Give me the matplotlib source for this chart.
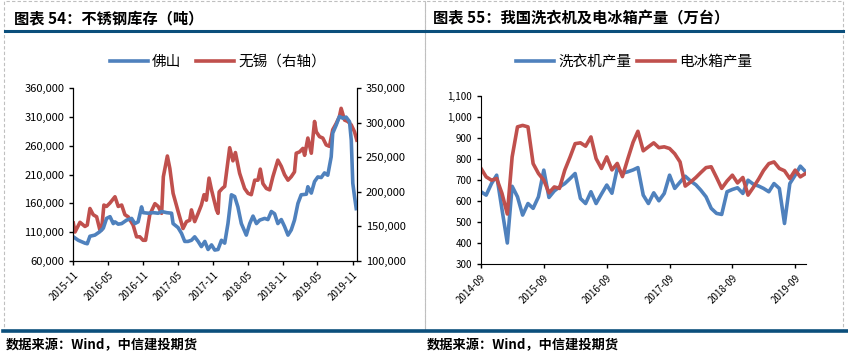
import matplotlib
matplotlib.use('Agg')
import matplotlib.pyplot as plt
import matplotlib.dates as mdates
from matplotlib.ticker import FuncFormatter
from matplotlib.lines import Line2D
from matplotlib.patches import Rectangle
import pandas as pd

plt.rcParams['font.family'] = ['Noto Sans CJK SC', 'DejaVu Sans']

# ---- chart 54: stainless steel inventory (tons) ----
foshan_dates = ['2015-11-01', '2015-11-27', '2016-01-01', '2016-01-13', '2016-01-27', '2016-02-22',
                '2016-03-19', '2016-04-06', '2016-04-23', '2016-05-11', '2016-05-28', '2016-06-06',
                '2016-06-23', '2016-07-11', '2016-08-06', '2016-09-01', '2016-09-18', '2016-10-05',
                '2016-10-23', '2016-10-31', '2016-11-27', '2016-12-23', '2017-01-18', '2017-02-05',
                '2017-03-03', '2017-03-29', '2017-04-06', '2017-05-02', '2017-05-20', '2017-06-06',
                '2017-06-23', '2017-07-11', '2017-07-28', '2017-08-15', '2017-09-01', '2017-09-19',
                '2017-10-06', '2017-10-24', '2017-11-10', '2017-11-27', '2017-12-15', '2018-01-01',
                '2018-01-18', '2018-02-05', '2018-02-22', '2018-03-11', '2018-03-29', '2018-04-24',
                '2018-05-12', '2018-05-29', '2018-06-16', '2018-07-03', '2018-07-29', '2018-08-15',
                '2018-09-02', '2018-09-19', '2018-10-06', '2018-10-24', '2018-11-10', '2018-11-28',
                '2018-12-15', '2019-01-01', '2019-01-19', '2019-02-05', '2019-03-04', '2019-03-12',
                '2019-03-30', '2019-04-16', '2019-05-03', '2019-05-21', '2019-06-07', '2019-06-24',
                '2019-07-12', '2019-07-20', '2019-08-07', '2019-08-24', '2019-09-11', '2019-09-28',
                '2019-10-16', '2019-10-25', '2019-11-02', '2019-11-11', '2019-11-20']
foshan = [102, 96, 91, 90, 103, 105, 111, 117, 134, 137, 125, 128,
          124, 125, 131, 134, 125, 128, 154, 144, 143, 144, 143, 146,
          144, 143, 125, 118, 108, 94, 94, 96, 102, 94, 85, 94,
          80, 88, 79, 80, 96, 91, 125, 175, 172, 154, 125, 105,
          125, 138, 125, 131, 134, 132, 146, 142, 125, 132, 120, 105,
          114, 131, 160, 175, 176, 189, 178, 198, 206, 205, 213, 209,
          241, 282, 296, 311, 308, 310, 302, 270, 195, 172, 151]
foshan = [v * 1000 for v in foshan]

wuxi_dates = ['2015-11-01', '2015-11-10', '2015-12-06', '2016-01-01', '2016-01-13', '2016-01-27',
              '2016-02-13', '2016-03-02', '2016-03-19', '2016-03-28', '2016-04-09', '2016-04-23',
              '2016-05-11', '2016-06-06', '2016-06-23', '2016-07-11', '2016-07-28', '2016-08-14',
              '2016-09-09', '2016-09-27', '2016-10-14', '2016-10-31', '2016-11-13', '2016-12-05',
              '2017-01-01', '2017-01-18', '2017-02-05', '2017-02-14', '2017-03-07', '2017-03-20',
              '2017-04-06', '2017-05-02', '2017-05-28', '2017-06-15', '2017-07-02', '2017-07-11',
              '2017-07-28', '2017-08-15', '2017-09-01', '2017-09-15', '2017-09-27', '2017-10-11',
              '2017-10-24', '2017-11-19', '2017-11-27', '2017-12-03', '2017-12-19', '2018-01-01',
              '2018-01-27', '2018-02-13', '2018-02-26', '2018-03-20', '2018-04-15', '2018-05-03',
              '2018-05-20', '2018-06-07', '2018-06-24', '2018-07-06', '2018-07-20', '2018-08-07',
              '2018-08-24', '2018-09-10', '2018-10-06', '2018-10-24', '2018-11-10', '2018-11-28',
              '2018-12-15', '2019-01-01', '2019-01-10', '2019-01-28', '2019-02-14', '2019-02-23',
              '2019-03-12', '2019-03-30', '2019-04-16', '2019-04-25', '2019-05-12', '2019-05-29',
              '2019-06-16', '2019-07-03', '2019-07-20', '2019-08-07', '2019-08-24', '2019-09-02',
              '2019-09-20', '2019-10-07', '2019-10-25', '2019-11-11', '2019-11-23']
wuxi = [155, 142, 156, 150, 152, 176, 167, 164, 145, 145, 181, 179,
        184, 193, 179, 181, 167, 164, 152, 135, 135, 130, 130, 167,
        183, 179, 169, 222, 252, 234, 198, 172, 147, 157, 159, 174,
        157, 169, 181, 196, 188, 220, 203, 174, 169, 200, 205, 208,
        264, 245, 257, 227, 205, 198, 196, 217, 217, 233, 212, 205,
        203, 222, 246, 237, 225, 217, 222, 229, 256, 258, 263, 253,
        278, 256, 302, 287, 280, 278, 268, 266, 290, 299, 309, 321,
        304, 302, 297, 287, 275]
wuxi = [v * 1000 for v in wuxi]

stock_ticks = ['2015-11', '2016-05', '2016-11', '2017-05', '2017-11',
               '2018-05', '2018-11', '2019-05', '2019-11']

# ---- chart 55: washing machine / refrigerator output (10k units), monthly 2014-09..2019-11 ----
washer = [644, 628, 683, 723, 560, 400, 670, 620, 533, 588, 565, 620,
          747, 617, 648, 667, 683, 707, 731, 612, 588, 644, 588, 633,
          676, 637, 756, 732, 739, 748, 759, 628, 588, 639, 601, 636,
          723, 660, 690, 718, 695, 677, 652, 620, 565, 541, 536, 644,
          655, 663, 636, 699, 680, 671, 660, 644, 683, 660, 493, 683,
          723, 766, 739]
fridge = [755, 715, 699, 707, 636, 538, 810, 953, 960, 953, 778, 731,
          699, 639, 667, 660, 747, 810, 873, 877, 861, 905, 802, 755,
          810, 748, 779, 716, 800, 880, 932, 839, 858, 877, 854, 858,
          850, 825, 786, 671, 690, 712, 735, 759, 763, 712, 660, 695,
          723, 686, 712, 628, 665, 705, 745, 778, 786, 755, 744, 707,
          747, 715, 731]
prod_months = pd.date_range('2014-09-01', periods=len(washer), freq='MS')
prod_ticks = ['2014-09', '2015-09', '2016-09', '2017-09', '2018-09', '2019-09']

BLUE = '#4F81BD'
RED = '#C0504D'
NAVY = '#0B4F7C'

fig = plt.figure(figsize=(8.48, 3.53), dpi=100)
W, H = 848, 353


def fx(px):
    return px / W


def fy(py):
    return 1 - py / H


# panel frames (dashed grey)
for x0, x1 in [(4, 425), (425, 843)]:
    fig.add_artist(Rectangle((fx(x0), fy(331)), fx(x1 - x0), (331 - 1) / H,
                             transform=fig.transFigure, fill=False,
                             edgecolor='#BFBFBF', lw=0.8, ls=(0, (3, 2))))
# rules under titles and above source
fig.add_artist(Line2D([fx(5), fx(424)], [fy(31), fy(31)], color=NAVY, lw=2.2))
fig.add_artist(Line2D([fx(426), fx(843)], [fy(31), fy(31)], color=NAVY, lw=2.2))
fig.add_artist(Line2D([fx(3), fx(848)], [fy(331), fy(331)], color=NAVY, lw=2.6))

fig.text(fx(14), fy(18), '图表 54：不锈钢库存（吨）', fontsize=11, fontweight='bold', va='center')
fig.text(fx(433), fy(18), '图表 55：我国洗衣机及电冰箱产量（万台）', fontsize=11, fontweight='bold', va='center')
fig.text(fx(6), fy(345), '数据来源：Wind，中信建投期货', fontsize=9.5, fontweight='bold', va='center')
fig.text(fx(427), fy(345), '数据来源：Wind，中信建投期货', fontsize=9.5, fontweight='bold', va='center')

thousands = FuncFormatter(lambda v, p: f'{int(v):,}')

# ---- left chart ----
ax1 = fig.add_axes([fx(73.3), fy(261), fx(357 - 73.3), (261 - 88.3) / H])
ax2 = ax1.twinx()
l1, = ax1.plot(pd.to_datetime(foshan_dates), foshan, color=BLUE, lw=2.6, solid_joinstyle='round')
l2, = ax2.plot(pd.to_datetime(wuxi_dates), wuxi, color=RED, lw=2.6, solid_joinstyle='round')
ax1.set_zorder(ax2.get_zorder() + 1)
ax1.patch.set_visible(False)
ax1.set_ylim(60000, 360000)
ax1.set_yticks(range(60000, 360001, 50000))
ax2.set_ylim(100000, 350000)
ax2.set_yticks(range(100000, 350001, 50000))
ax1.yaxis.set_major_formatter(thousands)
ax2.yaxis.set_major_formatter(thousands)
ax1.set_xlim(pd.Timestamp('2015-11-01'), pd.Timestamp('2019-11-24'))
ax1.set_xticks(pd.to_datetime(stock_ticks))
ax1.xaxis.set_major_formatter(mdates.DateFormatter('%Y-%m'))
for a in (ax1, ax2):
    a.spines['top'].set_visible(False)
    a.tick_params(labelsize=8, length=3, width=1, colors='black')
ax1.tick_params(axis='x', labelsize=7, rotation=45)
for lab in ax1.get_xticklabels():
    lab.set_ha('right')
    lab.set_rotation_mode('anchor')
fig.legend([l1, l2], ['佛山', '无锡（右轴）'], loc='center', bbox_to_anchor=(fx(218), fy(62)),
           ncol=2, frameon=False, fontsize=10.5, handlelength=2.6, columnspacing=1.0,
           handletextpad=0.3)

# ---- right chart ----
ax3 = fig.add_axes([fx(481), fy(264), fx(806 - 481), (264 - 96) / H])
l3, = ax3.plot(prod_months, washer, color=BLUE, lw=2.6, solid_joinstyle='round')
l4, = ax3.plot(prod_months, fridge, color=RED, lw=2.6, solid_joinstyle='round')
ax3.set_ylim(300, 1100)
ax3.set_yticks(range(300, 1101, 100))
ax3.yaxis.set_major_formatter(thousands)
ax3.set_xlim(pd.Timestamp('2014-09-01'), pd.Timestamp('2019-11-03'))
ax3.set_xticks(pd.to_datetime(prod_ticks))
ax3.xaxis.set_major_formatter(mdates.DateFormatter('%Y-%m'))
ax3.spines['top'].set_visible(False)
ax3.spines['right'].set_visible(False)
ax3.tick_params(labelsize=7, length=3, width=1, colors='black')
ax3.tick_params(axis='x', rotation=45)
for lab in ax3.get_xticklabels():
    lab.set_ha('right')
    lab.set_rotation_mode('anchor')
fig.legend([l3, l4], ['洗衣机产量', '电冰箱产量'], loc='center', bbox_to_anchor=(fx(634), fy(62)),
           ncol=2, frameon=False, fontsize=10.5, handlelength=2.6, columnspacing=0.4,
           handletextpad=0.3)

fig.savefig('out.png', dpi=100)
